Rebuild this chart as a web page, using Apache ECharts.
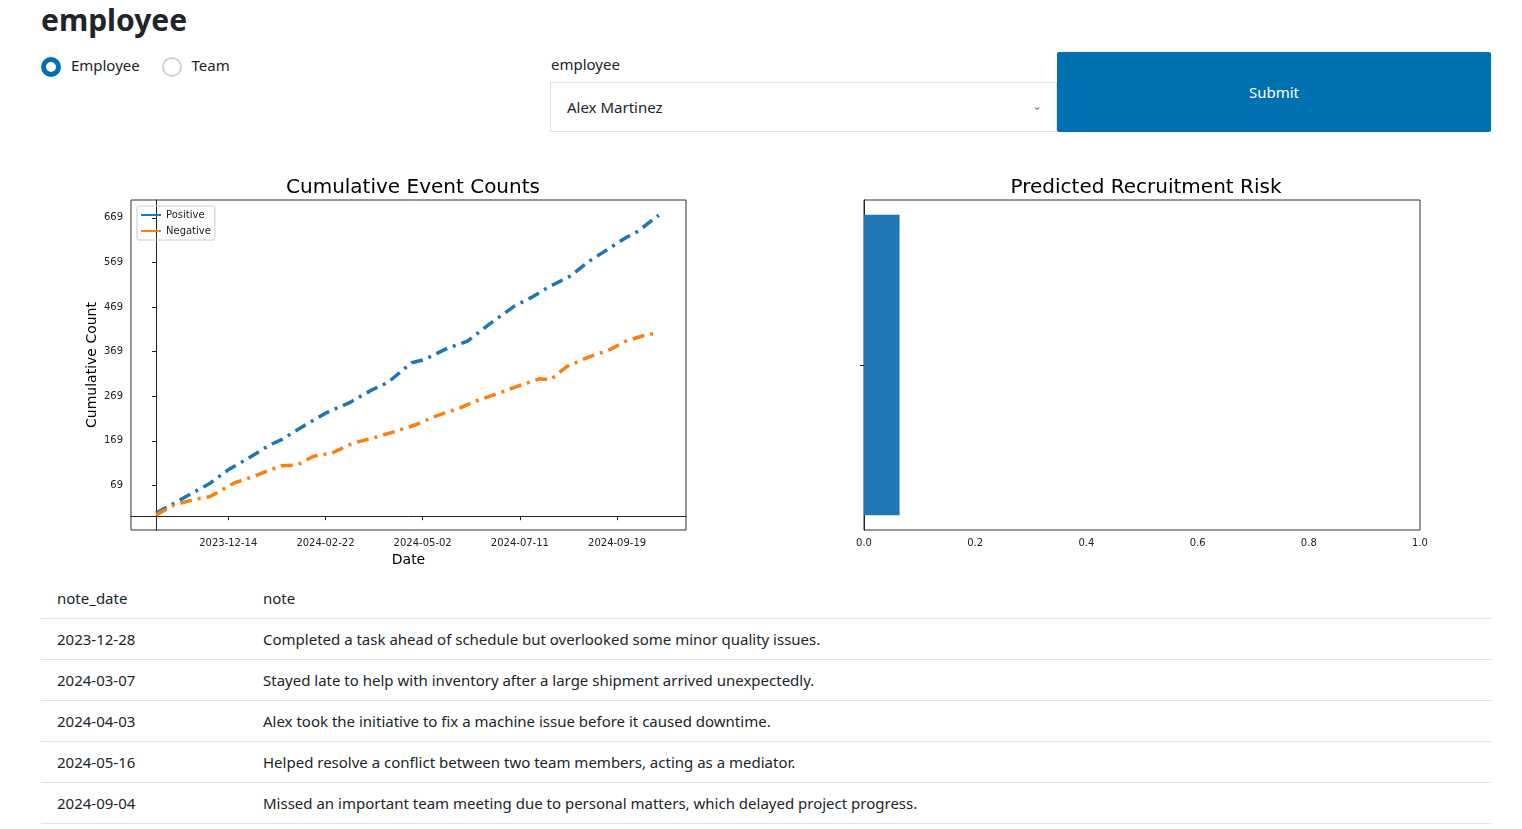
<!DOCTYPE html>
<html><head><meta charset="utf-8">
<script src="https://cdn.jsdelivr.net/npm/echarts@6/dist/echarts.min.js"></script>
<style>
body{margin:0;background:#fff;font-family:"Noto Sans","Open Sans",sans-serif;color:#212529;width:1522px;height:829px;overflow:hidden;position:relative}
.abs{position:absolute}
h1{position:absolute;left:41px;top:0;margin:0;font-size:30px;font-weight:700;line-height:40px}
.radio{display:inline-block;width:16px;height:16px;border-radius:50%;vertical-align:middle;box-sizing:border-box}
table{position:absolute;left:41px;top:578px;width:1450px;border-collapse:collapse;font-size:15px}
td{height:40px;border-bottom:1px solid #dee2e6;padding:0 16px;vertical-align:middle}
td:first-child{width:174px}
</style></head><body>
<h1>employee</h1>
<div class="abs" style="left:41px;top:54px;font-size:15px;line-height:22px">
  <span class="radio" style="border:5px solid #0071b0;width:20px;height:20px"></span>
  <span style="margin-left:6px">Employee</span>
  <span class="radio" style="border:2px solid #d0d4d8;width:20px;height:20px;margin-left:18px"></span>
  <span style="margin-left:6px">Team</span>
</div>
<div class="abs" style="left:551px;top:54px;font-size:15px">employee</div>
<div class="abs" style="left:550px;top:82px;width:505px;height:48px;border:1px solid #dee2e6;box-sizing:content-box;font-size:15px;line-height:48px;padding-left:0">
  <span style="margin-left:16px">Alex Martinez</span>
  <span style="position:absolute;right:14px;top:-1px;color:#888;font-size:12px">&#8964;</span>
</div>
<div class="abs" style="left:1057px;top:52px;width:434px;height:80px;background:#0071b0;color:#fff;font-size:15px;line-height:80px;text-align:center;border-radius:2px">Submit</div>
<div id="main" class="abs" style="left:0;top:160px;width:1522px;height:415px"></div>
<table id="notes"></table>
<script>
var startDate = Date.UTC(2023, 9, 23);
var posDays = [0,13,28,39,52,65,82,90,110,122,139,156,167,184,193,210,224,241,258,270,284,298,312,327,338,347,362];
var posVals = [7,29,55,74,104,127,160,171,209,231,254,284,300,344,351,377,392,433,471,490,516,538,572,602,624,639,675];
var negDays = [0,13,28,39,56,70,90,102,113,127,142,156,170,187,201,219,230,247,258,276,284,296,310,327,338,350,362];
var negVals = [3,25,38,44,74,89,113,115,134,142,164,175,188,205,224,243,258,276,289,308,306,336,355,374,392,404,412];
var riskCategories = ['Alex Martinez'];
var riskValues = [0.064];
var noteDates = ['2023-12-28','2024-03-07','2024-04-03','2024-05-16','2024-09-04'];
var noteTexts = [
  'Completed a task ahead of schedule but overlooked some minor quality issues.',
  'Stayed late to help with inventory after a large shipment arrived unexpectedly.',
  'Alex took the initiative to fix a machine issue before it caused downtime.',
  'Helped resolve a conflict between two team members, acting as a mediator.',
  'Missed an important team meeting due to personal matters, which delayed project progress.'
];

var tbl = '<tr><td>note_date</td><td>note</td></tr>';
for (var i = 0; i < noteDates.length; i++) tbl += '<tr><td>' + noteDates[i] + '</td><td>' + noteTexts[i] + '</td></tr>';
document.getElementById('notes').innerHTML = tbl;

function pairs(d, v){ return d.map(function(x, i){ return [x, v[i]]; }); }
function fmtDay(d){ return new Date(startDate + d * 86400000).toISOString().slice(0, 10); }

var font = 'DejaVu Sans';
var axisLine = {lineStyle: {color: '#222', width: 1}};
var lab = {fontFamily: font, fontSize: 10, color: '#222'};
var chart = echarts.init(document.getElementById('main'));
chart.setOption({
  animation: false,
  title: [
    {text: 'Cumulative Event Counts', left: 408, top: 13, textAlign: 'center', textStyle: {fontFamily: font, fontWeight: 'normal', fontSize: 20, color: '#000'}},
    {text: 'Predicted Recruitment Risk', left: 1141, top: 13, textAlign: 'center', textStyle: {fontFamily: font, fontWeight: 'normal', fontSize: 20, color: '#000'}}
  ],
  legend: {
    left: 137, top: 46, orient: 'vertical', itemWidth: 20, itemHeight: 2, itemGap: 6, icon: 'rect',
    borderColor: '#ccc', borderWidth: 1, borderRadius: 2, padding: [4, 4],
    textStyle: {fontFamily: font, fontSize: 10, color: '#222'},
    data: ['Positive', 'Negative']
  },
  grid: [
    {left: 131, top: 40, width: 555, height: 330, show: true, borderColor: '#333', borderWidth: 1, containLabel: false},
    {left: 864, top: 40, width: 556, height: 330, show: true, borderColor: '#333', borderWidth: 1, containLabel: false}
  ],
  xAxis: [
    {gridIndex: 0, type: 'value', min: -18, max: 381.6, interval: 70, name: 'Date', nameLocation: 'middle', nameGap: 20,
     nameTextStyle: {fontFamily: font, fontSize: 14, color: '#000'},
     axisLine: axisLine, axisTick: {length: 4, lineStyle: {color: '#222'}}, splitLine: {show: false},
     axisLabel: Object.assign({formatter: function(v){ return v < 0 ? '' : fmtDay(v); }, showMinLabel: false, showMaxLabel: false}, lab)},
    {gridIndex: 1, type: 'value', min: 0, max: 1, interval: 0.2,
     axisLine: axisLine, axisTick: {length: 4, lineStyle: {color: '#222'}}, splitLine: {show: false},
     axisLabel: Object.assign({formatter: function(v){ return v.toFixed(1); }}, lab)}
  ],
  yAxis: [
    {gridIndex: 0, type: 'value', min: -31, max: 709, interval: 100, name: 'Cumulative Count', nameLocation: 'middle', nameGap: 32,
     nameTextStyle: {fontFamily: font, fontSize: 14, color: '#000'},
     axisLine: {show: true, lineStyle: {color: '#222'}}, axisTick: {show: true, length: 4, lineStyle: {color: '#222'}}, splitLine: {show: false},
     axisLabel: Object.assign({showMinLabel: false, showMaxLabel: false, formatter: function(v){ return v < 0 ? '' : v; }}, lab)},
    {gridIndex: 1, type: 'category', data: riskCategories,
     axisLine: {show: true, lineStyle: {color: '#222'}}, axisTick: {show: true, alignWithLabel: true, length: 4, lineStyle: {color: '#222'}},
     axisLabel: {show: false}}
  ],
  series: [
    {name: 'Positive', type: 'line', xAxisIndex: 0, yAxisIndex: 0, data: pairs(posDays, posVals), showSymbol: false, color: '#1f77b4',
     lineStyle: {width: 3.5, type: [12, 6, 3, 6]}},
    {name: 'Negative', type: 'line', xAxisIndex: 0, yAxisIndex: 0, data: pairs(negDays, negVals), showSymbol: false, color: '#ff7f0e',
     lineStyle: {width: 3.5, type: [12, 6, 3, 6]}},
    {name: 'Risk', type: 'bar', xAxisIndex: 1, yAxisIndex: 1, data: riskValues, barWidth: '91%', itemStyle: {color: '#1f77b4'}}
  ]
});
</script>
</body></html>
